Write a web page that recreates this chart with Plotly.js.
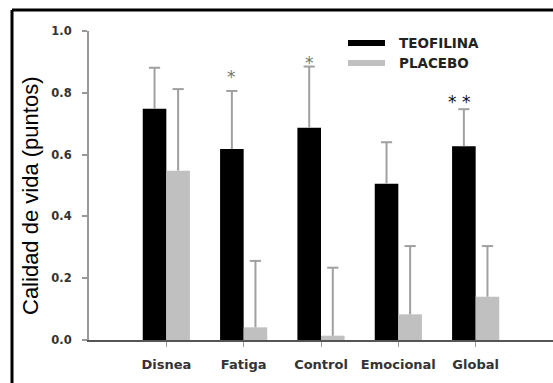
<!DOCTYPE html>
<html>
<head>
<meta charset="utf-8">
<script src="https://cdn.plot.ly/plotly-3.0.1.min.js"></script>
<style>html,body{margin:0;padding:0;background:#fff;}#chart{width:553px;height:383px;}</style>
</head>
<body>
<div id="chart"></div>
<script>
// Data
const categories = ["Disnea", "Fatiga", "Control", "Emocional", "Global"];
const teofilina = [0.748, 0.618, 0.687, 0.506, 0.627];
const teofilinaErr = [0.133, 0.188, 0.198, 0.134, 0.120];
const placebo = [0.548, 0.041, 0.014, 0.083, 0.140];
const placeboErr = [0.264, 0.215, 0.220, 0.221, 0.164];
const seriesNames = ["TEOFILINA", "PLACEBO"];
const yTicks = [0, 0.2, 0.4, 0.6, 0.8, 1.0];
const yTickText = ["0.0", "0.2", "0.4", "0.6", "0.8", "1.0"];
// significance marks: [category index, label]
const sigMarks = [[1, "*"], [2, "*"], [4, "* *"]];

const W = 553, H = 383;
const M = {l: 89, r: 0, t: 31, b: 43};
const pw = W - M.l - M.r, ph = H - M.t - M.b;
const px = x => (x - M.l) / pw;
const py = y => (H - M.b - y) / ph;

const BARGAP = 0.39;
const barOffset = (1 - BARGAP) / 4; // centre offset of each bar within its group
const errColor = "#a0a0a0";

const tickFont = {family: "DejaVu Sans", size: 13, color: "#333", weight: "bold"};

const traces = [
  {
    type: "bar", name: seriesNames[0], x: categories, y: teofilina,
    marker: {color: "#000000", line: {width: 0}},
    error_y: {type: "data", symmetric: false, array: teofilinaErr, arrayminus: teofilina.map(() => 0),
              color: errColor, thickness: 2, width: 0},
    showlegend: false
  },
  {
    type: "bar", name: seriesNames[1], x: categories, y: placebo,
    marker: {color: "#c0c0c0", line: {width: 0}},
    error_y: {type: "data", symmetric: false, array: placeboErr, arrayminus: placebo.map(() => 0),
              color: errColor, thickness: 2, width: 0},
    showlegend: false
  },
  // error-bar caps (top only)
  {
    type: "scatter", mode: "markers", xaxis: "x2", yaxis: "y",
    x: categories.map((c, i) => i - barOffset).concat(categories.map((c, i) => i + barOffset)),
    y: teofilina.map((v, i) => v + teofilinaErr[i]).concat(placebo.map((v, i) => v + placeboErr[i])),
    marker: {symbol: "line-ew", size: 8, line: {color: errColor, width: 2}},
    showlegend: false, hoverinfo: "skip"
  }
];

const annotations = [];
const sigStyle = [
  {color: "#777777", yshift: 10},
  {color: "#777777", yshift: 0},
  {color: "#111111", yshift: 3}
];
sigMarks.forEach((m, k) => {
  const i = m[0];
  annotations.push({
    x: i - barOffset + (k === 2 ? -0.06 : 0), y: teofilina[i] + teofilinaErr[i], xref: "x2", yref: "y",
    text: m[1], showarrow: false, xanchor: "center", yanchor: "bottom",
    yshift: sigStyle[k].yshift - 8,
    font: {family: "DejaVu Sans", size: 17, color: sigStyle[k].color}
  });
});
// legend text
annotations.push({x: px(397), y: py(43), xref: "paper", yref: "paper", text: seriesNames[0],
  showarrow: false, xanchor: "left", yanchor: "middle",
  font: {family: "DejaVu Sans", size: 13.5, color: "#222", weight: "bold"}});
annotations.push({x: px(397), y: py(63), xref: "paper", yref: "paper", text: seriesNames[1],
  showarrow: false, xanchor: "left", yanchor: "middle",
  font: {family: "DejaVu Sans", size: 13.5, color: "#222", weight: "bold"}});
// y axis title
annotations.push({x: px(30), y: py(196), xref: "paper", yref: "paper", text: "Calidad de vida (puntos)",
  showarrow: false, textangle: -90, xanchor: "center", yanchor: "middle",
  font: {family: "Liberation Sans, Arial", size: 22, color: "#000"}});

const shapes = [
  // frame (top and left)
  {type: "line", xref: "paper", yref: "paper", x0: px(12), x1: px(560), y0: py(10), y1: py(10), line: {color: "#000", width: 3}},
  {type: "line", xref: "paper", yref: "paper", x0: px(12), x1: px(12), y0: py(10), y1: py(390), line: {color: "#000", width: 3}},
  // legend swatches
  {type: "rect", xref: "paper", yref: "paper", x0: px(348), x1: px(385), y0: py(40), y1: py(46), fillcolor: "#000", line: {width: 0}},
  {type: "rect", xref: "paper", yref: "paper", x0: px(348), x1: px(385), y0: py(60), y1: py(66), fillcolor: "#c0c0c0", line: {width: 0}}
];

const layout = {
  width: W, height: H,
  margin: M,
  paper_bgcolor: "#fff", plot_bgcolor: "#fff",
  barmode: "group", bargap: BARGAP, bargroupgap: 0,
  showlegend: false,
  xaxis: {
    type: "category", range: [-1, 5], fixedrange: true,
    showline: true, linecolor: "#555", linewidth: 2,
    ticks: "outside", ticklen: 5, tickcolor: "#999", tickwidth: 1,
    showgrid: false, zeroline: false,
    tickfont: tickFont, ticklabelstandoff: 6
  },
  xaxis2: {
    type: "linear", range: [-1, 5], overlaying: "x", visible: false, fixedrange: true
  },
  yaxis: {
    range: [0, 1.0], fixedrange: true,
    tickvals: yTicks, ticktext: yTickText,
    showline: true, linecolor: "#999", linewidth: 2,
    ticks: "outside", ticklen: 5, tickcolor: "#999", tickwidth: 2,
    showgrid: false, zeroline: false,
    tickfont: {family: "DejaVu Sans", size: 11.5, color: "#333", weight: "bold"},
    ticklabelstandoff: 8
  },
  annotations: annotations,
  shapes: shapes
};

Plotly.newPlot("chart", traces, layout, {staticPlot: true, displayModeBar: false});
</script>
</body>
</html>
